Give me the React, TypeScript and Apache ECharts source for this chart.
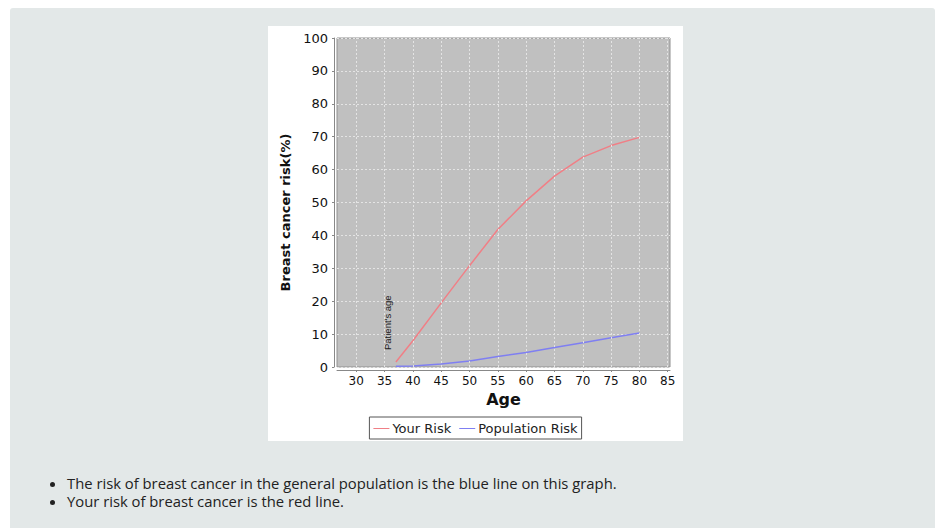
import React, { useEffect, useRef } from "react";
import * as echarts from "echarts";

const ages = [37, 40, 45, 50, 55, 60, 65, 70, 75, 80];
const yourRisk = [1.5, 8, 19.5, 30.8, 41.8, 50.5, 58, 63.8, 67.3, 69.8];
const populationRisk = [0.2, 0.3, 0.9, 1.8, 3.2, 4.4, 5.9, 7.4, 8.9, 10.3];
const ageTicks = [30, 35, 40, 45, 50, 55, 60, 65, 70, 75, 80, 85];
const patientAge = 37;
const bullets = [
  "The risk of breast cancer in the general population is the blue line on this graph.",
  "Your risk of breast cancer is the red line.",
];

const RED = "#f07f86";
const BLUE = "#7f7ff2";
const GRID = "#e4e4e4";

export default function App() {
  const ref = useRef<HTMLDivElement>(null);
  useEffect(() => {
    if (!ref.current) return;
    const chart = echarts.init(ref.current, null, { renderer: "svg" });
    const font = "DejaVu Sans";
    chart.setOption({
      animation: false,
      backgroundColor: "#ffffff",
      textStyle: { fontFamily: font },
      grid: {
        left: 69,
        top: 12,
        right: 13,
        bottom: 74,
        show: true,
        backgroundColor: "#c0c0c0",
        borderColor: "#909090",
        borderWidth: 1,
      },
      legend: {
        bottom: 2,
        left: "center",
        icon: "rect",
        borderColor: "#555555",
        borderWidth: 1,
        padding: [5, 4, 4, 4],
        itemWidth: 16,
        itemHeight: 1,
        itemGap: 8,
        textStyle: { fontFamily: font, fontSize: 13, color: "#222", padding: [0, 0, 0, -2] },
        data: [
          { name: "Your Risk", itemStyle: { color: RED } },
          { name: "Population Risk", itemStyle: { color: BLUE } },
        ],
      },
      xAxis: {
        type: "value",
        min: 26.6,
        max: 85.4,
        offset: 3,
        name: "Age",
        nameLocation: "middle",
        nameGap: 21,
        nameTextStyle: { fontFamily: font, fontSize: 16, fontWeight: "bold", color: "#111" },
        axisLine: { show: true, onZero: false, lineStyle: { color: "#888" } },
        axisTick: { show: true, length: 2, lineStyle: { color: "#888" }, customValues: ageTicks },
        axisLabel: {
          fontFamily: font,
          fontSize: 12,
          color: "#111",
          margin: 5,
          customValues: ageTicks,
        },
        splitLine: { show: false },
      },
      yAxis: {
        type: "value",
        min: 0,
        max: 100,
        interval: 10,
        offset: 3,
        name: "Breast cancer risk(%)",
        nameLocation: "middle",
        nameGap: 36,
        nameTextStyle: {
          fontFamily: font,
          fontSize: 13,
          fontWeight: "bold",
          color: "#111",
          padding: [0, 20, 0, 0],
        },
        axisLine: { show: true, lineStyle: { color: "#888" } },
        axisTick: { show: true, length: 2, lineStyle: { color: "#888" } },
        axisLabel: { fontFamily: font, fontSize: 13, color: "#111", margin: 6 },
        splitLine: {
          show: true,
          lineStyle: { color: GRID, type: [2, 2], width: 1 },
        },
      },
      series: [
        {
          name: "Your Risk",
          type: "line",
          symbol: "none",
          color: RED,
          z: 3,
          lineStyle: { width: 1.5, color: RED },
          data: ages.map((a, i) => [a, yourRisk[i]]),
          markLine: {
            silent: true,
            symbol: "none",
            lineStyle: { color: "rgba(0,0,0,0)", width: 0 },
            label: {
              show: true,
              position: "insideStartTop",
              formatter: "Patient's age",
              fontFamily: "Liberation Sans",
              fontSize: 9.5,
              color: "#1a1a1a",
              distance: [17, 3],
            },
            data: [{ xAxis: patientAge }],
          },
        },
        {
          name: "Population Risk",
          type: "line",
          symbol: "none",
          color: BLUE,
          z: 3,
          lineStyle: { width: 1.5, color: BLUE },
          data: ages.map((a, i) => [a, populationRisk[i]]),
        },
        {
          name: "age grid",
          type: "line",
          data: [],
          z: 1,
          silent: true,
          markLine: {
            silent: true,
            symbol: "none",
            animation: false,
            label: { show: false },
            lineStyle: { color: GRID, type: [2, 2], width: 1 },
            data: ageTicks.map((t) => ({ xAxis: t })),
          },
        },
      ],
    });
    return () => chart.dispose();
  }, []);

  return (
    <div style={{ position: "fixed", left: 0, top: 0, width: 937, height: 528, background: "#ffffff", overflow: "hidden" }}>
      <div
        style={{
          position: "absolute",
          left: 10,
          top: 8,
          width: 925,
          height: 540,
          background: "#e3e8e8",
          borderRadius: 3,
        }}
      />
      <div
        ref={ref}
        style={{ position: "absolute", left: 268, top: 26, width: 415, height: 415 }}
      />
      <ul
        style={{
          position: "absolute",
          left: 27,
          top: 474,
          margin: 0,
          paddingLeft: 40,
          fontFamily: "Open Sans",
          fontSize: 14.8,
          lineHeight: "18px",
          color: "#222",
          listStyle: "disc",
        }}
      >
        {bullets.map((b) => (
          <li key={b}>{b}</li>
        ))}
      </ul>
    </div>
  );
}
